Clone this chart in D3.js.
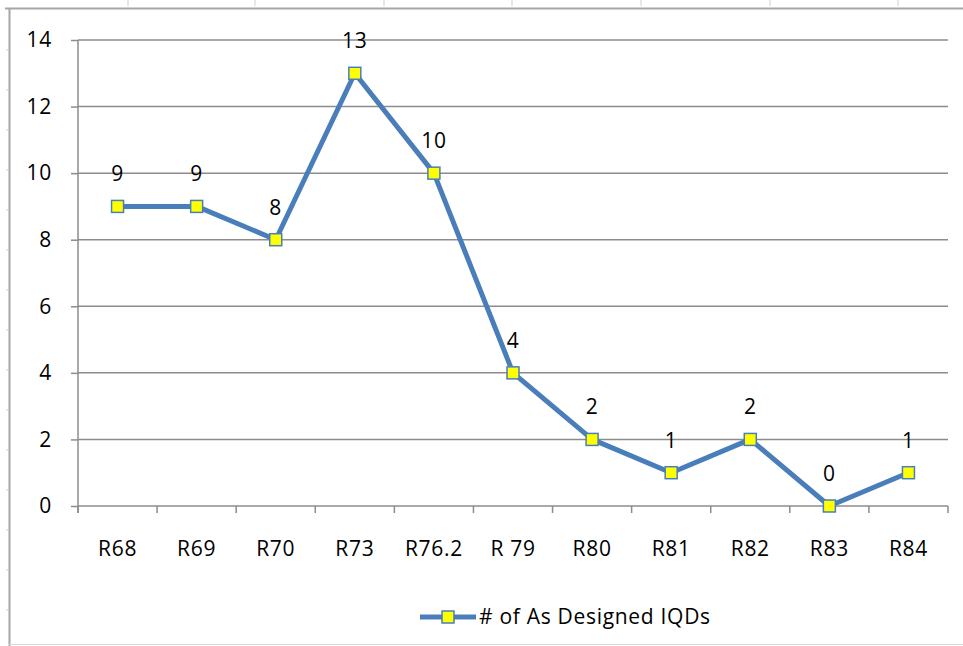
<!DOCTYPE html>
<html><head><meta charset="utf-8">
<script src="https://cdn.jsdelivr.net/npm/d3@7"></script>
<style>body{margin:0;background:#fff}svg{display:block}</style>
</head><body>
<svg id="c" width="963" height="646"></svg>
<script>
const categories = ["R68","R69","R70","R73","R76.2","R 79","R80","R81","R82","R83","R84"];
const values = [9,9,8,13,10,4,2,1,2,0,1];
const yTicks = [0,2,4,6,8,10,12,14];
const seriesName = "# of As Designed IQDs";

(function(){
const svg = d3.select("#c");
const font = "'Open Sans', sans-serif";
const fs = 21, ls = 0.7;
const pLeft = 78, pRight = 948, pTop = 40, pBottom = 506;

// frame / sheet remnants
svg.append("line").attr("x1",5).attr("x2",963).attr("y1",8.5).attr("y2",8.5).attr("stroke","#a6a6a6").attr("stroke-width",2);
svg.append("line").attr("x1",9.5).attr("x2",9.5).attr("y1",8).attr("y2",646).attr("stroke","#a6a6a6").attr("stroke-width",2);
svg.append("line").attr("x1",9).attr("x2",963).attr("y1",644.5).attr("y2",644.5).attr("stroke","#d9d9d9").attr("stroke-width",1);
[128,255,384,512,641,770,898].forEach(x=>svg.append("line").attr("x1",x).attr("x2",x).attr("y1",0).attr("y2",6).attr("stroke","#c8cfe0"));
d3.range(50,646,40).forEach(y=>svg.append("line").attr("x1",6).attr("x2",9).attr("y1",y).attr("y2",y).attr("stroke","#c8cfe0"));

const x = d3.scaleBand().domain(categories).range([pLeft,pRight]);
const y = d3.scaleLinear().domain([0,14]).range([pBottom,pTop]);

// gridlines
svg.append("g").selectAll("line").data(yTicks.filter(d=>d>0)).join("line")
  .attr("x1",pLeft).attr("x2",pRight).attr("y1",d=>y(d)).attr("y2",d=>y(d))
  .attr("stroke","#8c8c8c").attr("stroke-width",1.5);

// y axis
const ya = svg.append("g").attr("transform",`translate(${pLeft},0)`)
  .call(d3.axisLeft(y).tickValues(yTicks).tickSize(7).tickPadding(19));
ya.select(".domain").attr("stroke","#8c8c8c").attr("stroke-width",1.5).attr("d",`M0,${pBottom+7}V${pTop}`);
ya.selectAll(".tick line").attr("stroke","#8c8c8c").attr("stroke-width",1.5);
ya.selectAll("text").attr("font-family",font).attr("font-size",fs).attr("letter-spacing",ls).attr("fill","#000");

// x axis
const xa = svg.append("g").attr("transform",`translate(0,${pBottom})`)
  .call(d3.axisBottom(x).tickSize(0).tickPadding(35));
xa.select(".domain").attr("stroke","#8c8c8c").attr("stroke-width",1.5).attr("d",`M${pLeft},0H${pRight}`);
xa.selectAll("text").attr("font-family",font).attr("font-size",fs).attr("letter-spacing",ls).attr("fill","#000");
svg.append("g").selectAll("line").data(categories.concat(["__end"])).join("line")
  .attr("x1",(d,i)=>pLeft+i*x.step()).attr("x2",(d,i)=>pLeft+i*x.step())
  .attr("y1",pBottom).attr("y2",pBottom+7).attr("stroke","#8c8c8c").attr("stroke-width",1.5);

// line
const cx = d=>x(d)+x.bandwidth()/2;
const line = d3.line().x((d,i)=>cx(categories[i])).y(d=>y(d));
svg.append("path").datum(values).attr("d",line).attr("fill","none")
  .attr("stroke","#4a7ebb").attr("stroke-width",5).attr("stroke-linejoin","round");

// markers
svg.append("g").selectAll("rect").data(values).join("rect")
  .attr("x",(d,i)=>cx(categories[i])-6).attr("y",d=>y(d)-6)
  .attr("width",12).attr("height",12).attr("fill","#ffff00")
  .attr("stroke","#4a7ebb").attr("stroke-width",1.5);

// data labels
svg.append("g").selectAll("text").data(values).join("text")
  .attr("x",(d,i)=>cx(categories[i])).attr("y",d=>y(d)-25)
  .attr("text-anchor","middle").attr("font-family",font).attr("font-size",fs).attr("letter-spacing",ls).attr("fill","#000")
  .text(d=>d);

// legend
const lg = svg.append("g").attr("transform","translate(420,617)");
lg.append("line").attr("x1",0).attr("x2",56).attr("y1",0).attr("y2",0).attr("stroke","#4a7ebb").attr("stroke-width",5);
lg.append("rect").attr("x",22).attr("y",-6).attr("width",12).attr("height",12).attr("fill","#ffff00").attr("stroke","#4a7ebb").attr("stroke-width",1.5);
lg.append("text").attr("x",59).attr("y",7).attr("font-family",font).attr("font-size",fs).attr("letter-spacing",ls).attr("fill","#000").text(seriesName);
})();
</script>
</body></html>
